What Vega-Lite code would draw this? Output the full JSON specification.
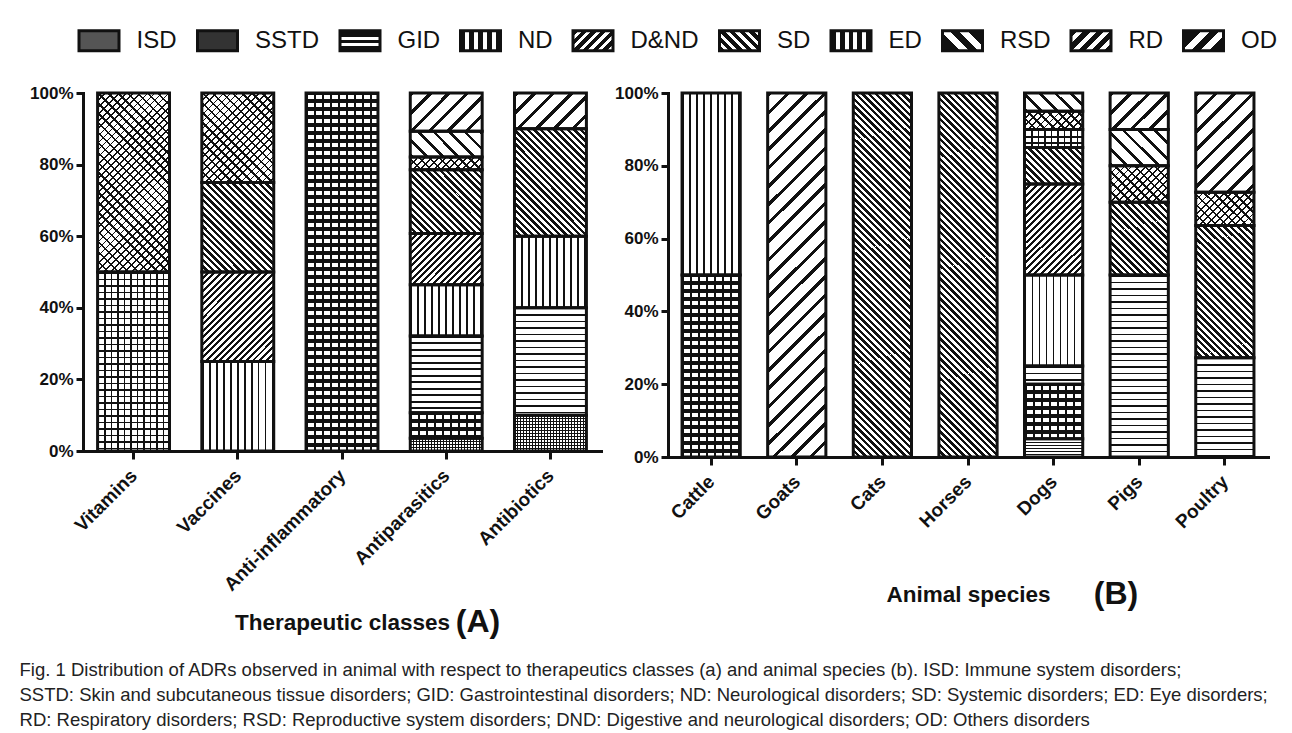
{
  "$schema": "https://vega.github.io/schema/vega-lite/v6.json",
  "padding": {"left": 19, "top": 19, "right": 4, "bottom": 4},
  "background": "white",
  "params": [
    {"name": "hatch", "value": [
      {"offset":0,"color":"#111"},{"offset":0.00391,"color":"#111"},{"offset":0.00391,"color":"rgba(0,0,0,0)"},{"offset":0.01563,"color":"rgba(0,0,0,0)"},
      {"offset":0.01563,"color":"#111"},{"offset":0.01953,"color":"#111"},{"offset":0.01953,"color":"rgba(0,0,0,0)"},{"offset":0.03125,"color":"rgba(0,0,0,0)"},
      {"offset":0.03125,"color":"#111"},{"offset":0.03516,"color":"#111"},{"offset":0.03516,"color":"rgba(0,0,0,0)"},{"offset":0.04688,"color":"rgba(0,0,0,0)"},
      {"offset":0.04688,"color":"#111"},{"offset":0.05078,"color":"#111"},{"offset":0.05078,"color":"rgba(0,0,0,0)"},{"offset":0.0625,"color":"rgba(0,0,0,0)"},
      {"offset":0.0625,"color":"#111"},{"offset":0.06641,"color":"#111"},{"offset":0.06641,"color":"rgba(0,0,0,0)"},{"offset":0.07813,"color":"rgba(0,0,0,0)"},
      {"offset":0.07813,"color":"#111"},{"offset":0.08203,"color":"#111"},{"offset":0.08203,"color":"rgba(0,0,0,0)"},{"offset":0.09375,"color":"rgba(0,0,0,0)"},
      {"offset":0.09375,"color":"#111"},{"offset":0.09766,"color":"#111"},{"offset":0.09766,"color":"rgba(0,0,0,0)"},{"offset":0.10938,"color":"rgba(0,0,0,0)"},
      {"offset":0.10938,"color":"#111"},{"offset":0.11328,"color":"#111"},{"offset":0.11328,"color":"rgba(0,0,0,0)"},{"offset":0.125,"color":"rgba(0,0,0,0)"},
      {"offset":0.125,"color":"#111"},{"offset":0.12891,"color":"#111"},{"offset":0.12891,"color":"rgba(0,0,0,0)"},{"offset":0.14063,"color":"rgba(0,0,0,0)"},
      {"offset":0.14063,"color":"#111"},{"offset":0.14453,"color":"#111"},{"offset":0.14453,"color":"rgba(0,0,0,0)"},{"offset":0.15625,"color":"rgba(0,0,0,0)"},
      {"offset":0.15625,"color":"#111"},{"offset":0.16016,"color":"#111"},{"offset":0.16016,"color":"rgba(0,0,0,0)"},{"offset":0.17188,"color":"rgba(0,0,0,0)"},
      {"offset":0.17188,"color":"#111"},{"offset":0.17578,"color":"#111"},{"offset":0.17578,"color":"rgba(0,0,0,0)"},{"offset":0.1875,"color":"rgba(0,0,0,0)"},
      {"offset":0.1875,"color":"#111"},{"offset":0.19141,"color":"#111"},{"offset":0.19141,"color":"rgba(0,0,0,0)"},{"offset":0.20313,"color":"rgba(0,0,0,0)"},
      {"offset":0.20313,"color":"#111"},{"offset":0.20703,"color":"#111"},{"offset":0.20703,"color":"rgba(0,0,0,0)"},{"offset":0.21875,"color":"rgba(0,0,0,0)"},
      {"offset":0.21875,"color":"#111"},{"offset":0.22266,"color":"#111"},{"offset":0.22266,"color":"rgba(0,0,0,0)"},{"offset":0.23438,"color":"rgba(0,0,0,0)"},
      {"offset":0.23438,"color":"#111"},{"offset":0.23828,"color":"#111"},{"offset":0.23828,"color":"rgba(0,0,0,0)"},{"offset":0.25,"color":"rgba(0,0,0,0)"},
      {"offset":0.25,"color":"#111"},{"offset":0.25391,"color":"#111"},{"offset":0.25391,"color":"rgba(0,0,0,0)"},{"offset":0.26563,"color":"rgba(0,0,0,0)"},
      {"offset":0.26563,"color":"#111"},{"offset":0.26953,"color":"#111"},{"offset":0.26953,"color":"rgba(0,0,0,0)"},{"offset":0.28125,"color":"rgba(0,0,0,0)"},
      {"offset":0.28125,"color":"#111"},{"offset":0.28516,"color":"#111"},{"offset":0.28516,"color":"rgba(0,0,0,0)"},{"offset":0.29688,"color":"rgba(0,0,0,0)"},
      {"offset":0.29688,"color":"#111"},{"offset":0.30078,"color":"#111"},{"offset":0.30078,"color":"rgba(0,0,0,0)"},{"offset":0.3125,"color":"rgba(0,0,0,0)"},
      {"offset":0.3125,"color":"#111"},{"offset":0.31641,"color":"#111"},{"offset":0.31641,"color":"rgba(0,0,0,0)"},{"offset":0.32813,"color":"rgba(0,0,0,0)"},
      {"offset":0.32813,"color":"#111"},{"offset":0.33203,"color":"#111"},{"offset":0.33203,"color":"rgba(0,0,0,0)"},{"offset":0.34375,"color":"rgba(0,0,0,0)"},
      {"offset":0.34375,"color":"#111"},{"offset":0.34766,"color":"#111"},{"offset":0.34766,"color":"rgba(0,0,0,0)"},{"offset":0.35938,"color":"rgba(0,0,0,0)"},
      {"offset":0.35938,"color":"#111"},{"offset":0.36328,"color":"#111"},{"offset":0.36328,"color":"rgba(0,0,0,0)"},{"offset":0.375,"color":"rgba(0,0,0,0)"},
      {"offset":0.375,"color":"#111"},{"offset":0.37891,"color":"#111"},{"offset":0.37891,"color":"rgba(0,0,0,0)"},{"offset":0.39063,"color":"rgba(0,0,0,0)"},
      {"offset":0.39063,"color":"#111"},{"offset":0.39453,"color":"#111"},{"offset":0.39453,"color":"rgba(0,0,0,0)"},{"offset":0.40625,"color":"rgba(0,0,0,0)"},
      {"offset":0.40625,"color":"#111"},{"offset":0.41016,"color":"#111"},{"offset":0.41016,"color":"rgba(0,0,0,0)"},{"offset":0.42188,"color":"rgba(0,0,0,0)"},
      {"offset":0.42188,"color":"#111"},{"offset":0.42578,"color":"#111"},{"offset":0.42578,"color":"rgba(0,0,0,0)"},{"offset":0.4375,"color":"rgba(0,0,0,0)"},
      {"offset":0.4375,"color":"#111"},{"offset":0.44141,"color":"#111"},{"offset":0.44141,"color":"rgba(0,0,0,0)"},{"offset":0.45313,"color":"rgba(0,0,0,0)"},
      {"offset":0.45313,"color":"#111"},{"offset":0.45703,"color":"#111"},{"offset":0.45703,"color":"rgba(0,0,0,0)"},{"offset":0.46875,"color":"rgba(0,0,0,0)"},
      {"offset":0.46875,"color":"#111"},{"offset":0.47266,"color":"#111"},{"offset":0.47266,"color":"rgba(0,0,0,0)"},{"offset":0.48438,"color":"rgba(0,0,0,0)"},
      {"offset":0.48438,"color":"#111"},{"offset":0.48828,"color":"#111"},{"offset":0.48828,"color":"rgba(0,0,0,0)"},{"offset":0.5,"color":"rgba(0,0,0,0)"},
      {"offset":0.5,"color":"#111"},{"offset":0.50391,"color":"#111"},{"offset":0.50391,"color":"rgba(0,0,0,0)"},{"offset":0.51563,"color":"rgba(0,0,0,0)"},
      {"offset":0.51563,"color":"#111"},{"offset":0.51953,"color":"#111"},{"offset":0.51953,"color":"rgba(0,0,0,0)"},{"offset":0.53125,"color":"rgba(0,0,0,0)"},
      {"offset":0.53125,"color":"#111"},{"offset":0.53516,"color":"#111"},{"offset":0.53516,"color":"rgba(0,0,0,0)"},{"offset":0.54688,"color":"rgba(0,0,0,0)"},
      {"offset":0.54688,"color":"#111"},{"offset":0.55078,"color":"#111"},{"offset":0.55078,"color":"rgba(0,0,0,0)"},{"offset":0.5625,"color":"rgba(0,0,0,0)"},
      {"offset":0.5625,"color":"#111"},{"offset":0.56641,"color":"#111"},{"offset":0.56641,"color":"rgba(0,0,0,0)"},{"offset":0.57813,"color":"rgba(0,0,0,0)"},
      {"offset":0.57813,"color":"#111"},{"offset":0.58203,"color":"#111"},{"offset":0.58203,"color":"rgba(0,0,0,0)"},{"offset":0.59375,"color":"rgba(0,0,0,0)"},
      {"offset":0.59375,"color":"#111"},{"offset":0.59766,"color":"#111"},{"offset":0.59766,"color":"rgba(0,0,0,0)"},{"offset":0.60938,"color":"rgba(0,0,0,0)"},
      {"offset":0.60938,"color":"#111"},{"offset":0.61328,"color":"#111"},{"offset":0.61328,"color":"rgba(0,0,0,0)"},{"offset":0.625,"color":"rgba(0,0,0,0)"},
      {"offset":0.625,"color":"#111"},{"offset":0.62891,"color":"#111"},{"offset":0.62891,"color":"rgba(0,0,0,0)"},{"offset":0.64063,"color":"rgba(0,0,0,0)"},
      {"offset":0.64063,"color":"#111"},{"offset":0.64453,"color":"#111"},{"offset":0.64453,"color":"rgba(0,0,0,0)"},{"offset":0.65625,"color":"rgba(0,0,0,0)"},
      {"offset":0.65625,"color":"#111"},{"offset":0.66016,"color":"#111"},{"offset":0.66016,"color":"rgba(0,0,0,0)"},{"offset":0.67188,"color":"rgba(0,0,0,0)"},
      {"offset":0.67188,"color":"#111"},{"offset":0.67578,"color":"#111"},{"offset":0.67578,"color":"rgba(0,0,0,0)"},{"offset":0.6875,"color":"rgba(0,0,0,0)"},
      {"offset":0.6875,"color":"#111"},{"offset":0.69141,"color":"#111"},{"offset":0.69141,"color":"rgba(0,0,0,0)"},{"offset":0.70313,"color":"rgba(0,0,0,0)"},
      {"offset":0.70313,"color":"#111"},{"offset":0.70703,"color":"#111"},{"offset":0.70703,"color":"rgba(0,0,0,0)"},{"offset":0.71875,"color":"rgba(0,0,0,0)"},
      {"offset":0.71875,"color":"#111"},{"offset":0.72266,"color":"#111"},{"offset":0.72266,"color":"rgba(0,0,0,0)"},{"offset":0.73438,"color":"rgba(0,0,0,0)"},
      {"offset":0.73438,"color":"#111"},{"offset":0.73828,"color":"#111"},{"offset":0.73828,"color":"rgba(0,0,0,0)"},{"offset":0.75,"color":"rgba(0,0,0,0)"},
      {"offset":0.75,"color":"#111"},{"offset":0.75391,"color":"#111"},{"offset":0.75391,"color":"rgba(0,0,0,0)"},{"offset":0.76563,"color":"rgba(0,0,0,0)"},
      {"offset":0.76563,"color":"#111"},{"offset":0.76953,"color":"#111"},{"offset":0.76953,"color":"rgba(0,0,0,0)"},{"offset":0.78125,"color":"rgba(0,0,0,0)"},
      {"offset":0.78125,"color":"#111"},{"offset":0.78516,"color":"#111"},{"offset":0.78516,"color":"rgba(0,0,0,0)"},{"offset":0.79688,"color":"rgba(0,0,0,0)"},
      {"offset":0.79688,"color":"#111"},{"offset":0.80078,"color":"#111"},{"offset":0.80078,"color":"rgba(0,0,0,0)"},{"offset":0.8125,"color":"rgba(0,0,0,0)"},
      {"offset":0.8125,"color":"#111"},{"offset":0.81641,"color":"#111"},{"offset":0.81641,"color":"rgba(0,0,0,0)"},{"offset":0.82813,"color":"rgba(0,0,0,0)"},
      {"offset":0.82813,"color":"#111"},{"offset":0.83203,"color":"#111"},{"offset":0.83203,"color":"rgba(0,0,0,0)"},{"offset":0.84375,"color":"rgba(0,0,0,0)"},
      {"offset":0.84375,"color":"#111"},{"offset":0.84766,"color":"#111"},{"offset":0.84766,"color":"rgba(0,0,0,0)"},{"offset":0.85938,"color":"rgba(0,0,0,0)"},
      {"offset":0.85938,"color":"#111"},{"offset":0.86328,"color":"#111"},{"offset":0.86328,"color":"rgba(0,0,0,0)"},{"offset":0.875,"color":"rgba(0,0,0,0)"},
      {"offset":0.875,"color":"#111"},{"offset":0.87891,"color":"#111"},{"offset":0.87891,"color":"rgba(0,0,0,0)"},{"offset":0.89063,"color":"rgba(0,0,0,0)"},
      {"offset":0.89063,"color":"#111"},{"offset":0.89453,"color":"#111"},{"offset":0.89453,"color":"rgba(0,0,0,0)"},{"offset":0.90625,"color":"rgba(0,0,0,0)"},
      {"offset":0.90625,"color":"#111"},{"offset":0.91016,"color":"#111"},{"offset":0.91016,"color":"rgba(0,0,0,0)"},{"offset":0.92188,"color":"rgba(0,0,0,0)"},
      {"offset":0.92188,"color":"#111"},{"offset":0.92578,"color":"#111"},{"offset":0.92578,"color":"rgba(0,0,0,0)"},{"offset":0.9375,"color":"rgba(0,0,0,0)"},
      {"offset":0.9375,"color":"#111"},{"offset":0.94141,"color":"#111"},{"offset":0.94141,"color":"rgba(0,0,0,0)"},{"offset":0.95313,"color":"rgba(0,0,0,0)"},
      {"offset":0.95313,"color":"#111"},{"offset":0.95703,"color":"#111"},{"offset":0.95703,"color":"rgba(0,0,0,0)"},{"offset":0.96875,"color":"rgba(0,0,0,0)"},
      {"offset":0.96875,"color":"#111"},{"offset":0.97266,"color":"#111"},{"offset":0.97266,"color":"rgba(0,0,0,0)"},{"offset":0.98438,"color":"rgba(0,0,0,0)"},
      {"offset":0.98438,"color":"#111"},{"offset":0.98828,"color":"#111"},{"offset":0.98828,"color":"rgba(0,0,0,0)"},{"offset":1,"color":"rgba(0,0,0,0)"}
    ]},
    {"name": "lgb", "value": [
      {"offset":0,"color":"#111"},{"offset":0.3,"color":"#111"},{"offset":0.3,"color":"#fff"},{"offset":0.45,"color":"#fff"},
      {"offset":0.45,"color":"#111"},{"offset":0.6,"color":"#111"},{"offset":0.6,"color":"#fff"},{"offset":0.75,"color":"#fff"},
      {"offset":0.75,"color":"#111"},{"offset":1,"color":"#111"}
    ]},
    {"name": "lg4", "value": [
      {"offset":0,"color":"#111"},{"offset":0.12,"color":"#111"},{"offset":0.12,"color":"#fff"},{"offset":0.22,"color":"#fff"},
      {"offset":0.22,"color":"#111"},{"offset":0.34,"color":"#111"},{"offset":0.34,"color":"#fff"},{"offset":0.44,"color":"#fff"},
      {"offset":0.44,"color":"#111"},{"offset":0.56,"color":"#111"},{"offset":0.56,"color":"#fff"},{"offset":0.66,"color":"#fff"},
      {"offset":0.66,"color":"#111"},{"offset":0.78,"color":"#111"},{"offset":0.78,"color":"#fff"},{"offset":0.88,"color":"#fff"},
      {"offset":0.88,"color":"#111"},{"offset":1,"color":"#111"}
    ]},
    {"name": "lg6", "value": [
      {"offset":0,"color":"#111"},{"offset":0.09,"color":"#111"},{"offset":0.09,"color":"#fff"},{"offset":0.16,"color":"#fff"},
      {"offset":0.16,"color":"#111"},{"offset":0.25,"color":"#111"},{"offset":0.25,"color":"#fff"},{"offset":0.32,"color":"#fff"},
      {"offset":0.32,"color":"#111"},{"offset":0.41,"color":"#111"},{"offset":0.41,"color":"#fff"},{"offset":0.48,"color":"#fff"},
      {"offset":0.48,"color":"#111"},{"offset":0.57,"color":"#111"},{"offset":0.57,"color":"#fff"},{"offset":0.64,"color":"#fff"},
      {"offset":0.64,"color":"#111"},{"offset":0.73,"color":"#111"},{"offset":0.73,"color":"#fff"},{"offset":0.8,"color":"#fff"},
      {"offset":0.8,"color":"#111"},{"offset":0.89,"color":"#111"},{"offset":0.89,"color":"#fff"},{"offset":0.96,"color":"#fff"},
      {"offset":0.96,"color":"#111"},{"offset":1,"color":"#111"}
    ]}
  ],
  "datasets": {
    "A": [
      {"item":"Vitamins","cat":"ED","pct":50},
      {"item":"Vitamins","cat":"RD","pct":50},
      {"item":"Vaccines","cat":"ND","pct":25},
      {"item":"Vaccines","cat":"D&ND","pct":25},
      {"item":"Vaccines","cat":"SD","pct":25},
      {"item":"Vaccines","cat":"RD","pct":25},
      {"item":"Anti-inflammatory","cat":"SSTD","pct":100},
      {"item":"Antiparasitics","cat":"ISD","pct":3.57},
      {"item":"Antiparasitics","cat":"SSTD","pct":7.14},
      {"item":"Antiparasitics","cat":"GID","pct":21.43},
      {"item":"Antiparasitics","cat":"ND","pct":14.29},
      {"item":"Antiparasitics","cat":"D&ND","pct":14.29},
      {"item":"Antiparasitics","cat":"SD","pct":17.86},
      {"item":"Antiparasitics","cat":"RD","pct":3.57},
      {"item":"Antiparasitics","cat":"RSD","pct":7.14},
      {"item":"Antiparasitics","cat":"OD","pct":10.71},
      {"item":"Antibiotics","cat":"ISD","pct":10},
      {"item":"Antibiotics","cat":"GID","pct":30},
      {"item":"Antibiotics","cat":"ND","pct":20},
      {"item":"Antibiotics","cat":"SD","pct":30},
      {"item":"Antibiotics","cat":"OD","pct":10}
    ],
    "B": [
      {"item":"Cattle","cat":"SSTD","pct":50},
      {"item":"Cattle","cat":"ND","pct":50},
      {"item":"Goats","cat":"OD","pct":100},
      {"item":"Cats","cat":"SD","pct":100},
      {"item":"Horses","cat":"SD","pct":100},
      {"item":"Dogs","cat":"ISD","pct":5},
      {"item":"Dogs","cat":"SSTD","pct":15},
      {"item":"Dogs","cat":"GID","pct":5},
      {"item":"Dogs","cat":"ND","pct":25},
      {"item":"Dogs","cat":"D&ND","pct":25},
      {"item":"Dogs","cat":"SD","pct":10},
      {"item":"Dogs","cat":"ED","pct":5},
      {"item":"Dogs","cat":"RD","pct":5},
      {"item":"Dogs","cat":"RSD","pct":5},
      {"item":"Pigs","cat":"GID","pct":50},
      {"item":"Pigs","cat":"SD","pct":20},
      {"item":"Pigs","cat":"RD","pct":10},
      {"item":"Pigs","cat":"RSD","pct":10},
      {"item":"Pigs","cat":"OD","pct":10},
      {"item":"Poultry","cat":"GID","pct":27.27},
      {"item":"Poultry","cat":"SD","pct":36.36},
      {"item":"Poultry","cat":"RD","pct":9.09},
      {"item":"Poultry","cat":"OD","pct":27.28}
    ]
  },
  "title": {
    "text": [
      "Fig. 1 Distribution of ADRs observed in animal with respect to therapeutics classes (a) and animal species (b). ISD: Immune system disorders;",
      "SSTD: Skin and subcutaneous tissue disorders; GID: Gastrointestinal disorders; ND: Neurological disorders; SD: Systemic disorders; ED: Eye disorders;",
      "RD: Respiratory disorders; RSD: Reproductive system disorders; DND: Digestive and neurological disorders; OD: Others disorders"
    ],
    "orient": "bottom", "anchor": "start", "offset": 23, "dx": -10,
    "font": "Liberation Sans", "fontSize": 18.5, "fontWeight": "normal", "color": "#222", "lineHeight": 25
  },
  "spacing": 13,
  "resolve": {"scale": {"fill": "shared", "stroke": "shared"}, "legend": {"fill": "shared"}},
  "hconcat": [
    {
      "width": 518, "height": 358,
      "data": {"name": "A"},
      "title": {"text": "(A)", "orient": "bottom", "anchor": "middle", "fontSize": 32, "fontWeight": "bold", "font": "Liberation Sans", "color": "#111", "dx": 136, "dy": -27, "offset": 0},
      "transform": [
        {"calculate": "indexof(['ISD','SSTD','GID','ND','D&ND','SD','ED','RD','RSD','OD'], datum.cat)", "as": "o"},
        {"stack": "pct", "groupby": ["item"], "sort": [{"field": "o", "order": "ascending"}], "as": ["s", "e"], "offset": "normalize"}
      ],
      "encoding": {
        "x": {"field": "item", "type": "nominal", "sort": ["Vitamins","Vaccines","Anti-inflammatory","Antiparasitics","Antibiotics"], "scale": {"paddingInner": 0.31, "paddingOuter": 0.14}, "title": "Therapeutic classes", "axis": {"titlePadding": 17}},
        "y": {"field": "s", "type": "quantitative", "scale": {"domain": [0, 1], "nice": false}, "axis": {"values": [0, 0.2, 0.4, 0.6, 0.8, 1], "format": ".0%", "title": null}},
        "y2": {"field": "e"}
      },
      "layer": [
        {"mark": {"type": "bar", "opacity": 0, "stroke": "#111", "strokeWidth": 3},
         "encoding": {"fill": {"field": "cat", "type": "nominal",
           "scale": {"domain": ["ISD","SSTD","GID","ND","D&ND","SD","ED","RSD","RD","OD"], "range": ["#555","#333",
             {"expr": "{gradient:'linear',x1:0,y1:0,x2:1e-9,y2:1,stops:lgb}"},
             {"expr": "{gradient:'linear',x1:0,y1:0,x2:1,y2:0,stops:lg4}"},
             {"expr": "{gradient:'linear',x1:0,y1:0,x2:1.2,y2:0.6,stops:lg6}"},
             {"expr": "{gradient:'linear',x1:0,y1:1,x2:1.2,y2:0.4,stops:lg6}"},
             {"expr": "{gradient:'linear',x1:0,y1:0,x2:1,y2:0,stops:lg4}"},
             {"expr": "{gradient:'linear',x1:0,y1:1,x2:1.2,y2:0.4,stops:lgb}"},
             {"expr": "{gradient:'linear',x1:0,y1:0,x2:1.2,y2:0.6,stops:lg4}"},
             {"expr": "{gradient:'linear',x1:0,y1:0,x2:1.2,y2:0.6,stops:lgb}"}]},
           "legend": {"orient": "none", "legendX": -5.5, "legendY": -74, "direction": "horizontal", "columns": 10, "title": null, "padding": 0,
             "symbolType": "M-1,-0.5H1V0.5H-1Z", "symbolSize": 1600, "symbolStrokeWidth": 3, "symbolStrokeColor": "#111", "symbolOpacity": 1,
             "labelFontSize": 24, "labelFont": "Liberation Sans", "labelFontWeight": "normal", "labelColor": "#111", "labelOffset": 16, "columnPadding": 13.5}
         }}},
        {"mark": {"type": "bar", "strokeWidth": 0, "fill": {"expr": "(datum.cat=='GID'||datum.cat=='ED')?{gradient:'linear',x1:0,y1:0,x2:1e-9,y2:416/((datum.e-datum.s)*358),stops:hatch}:datum.cat=='ISD'?{gradient:'linear',x1:0,y1:0,x2:1e-9,y2:192/((datum.e-datum.s)*358),stops:hatch}:datum.cat=='SSTD'?{gradient:'linear',x1:0,y1:0,x2:1e-9,y2:512/((datum.e-datum.s)*358),stops:hatch}:datum.cat=='ND'?{gradient:'linear',x1:0,y1:0,x2:6.222,y2:0,stops:hatch}:datum.cat=='SD'?{gradient:'linear',x1:0,y1:1,x2:72*425.4/(5184+pow((datum.e-datum.s)*358,2)),y2:1-(datum.e-datum.s)*358*425.4/(5184+pow((datum.e-datum.s)*358,2)),stops:hatch}:datum.cat=='D&ND'?{gradient:'linear',x1:0,y1:0,x2:72*425.4/(5184+pow((datum.e-datum.s)*358,2)),y2:(datum.e-datum.s)*358*425.4/(5184+pow((datum.e-datum.s)*358,2)),stops:hatch}:datum.cat=='RD'?{gradient:'linear',x1:0,y1:0,x2:72*452.5/(5184+pow((datum.e-datum.s)*358,2)),y2:(datum.e-datum.s)*358*452.5/(5184+pow((datum.e-datum.s)*358,2)),stops:hatch}:datum.cat=='RSD'?{gradient:'linear',x1:0,y1:1,x2:72*995.6/(5184+pow((datum.e-datum.s)*358,2)),y2:1-(datum.e-datum.s)*358*995.6/(5184+pow((datum.e-datum.s)*358,2)),stops:hatch}:{gradient:'linear',x1:0,y1:0,x2:72*1176.6/(5184+pow((datum.e-datum.s)*358,2)),y2:(datum.e-datum.s)*358*1176.6/(5184+pow((datum.e-datum.s)*358,2)),stops:hatch}"}}},
        {"transform": [{"filter": {"field": "cat", "oneOf": ["ED","ISD","SSTD","SD","D&ND","RD"]}}],
         "mark": {"type": "bar", "strokeWidth": 0, "fill": {"expr": "datum.cat=='ED'?{gradient:'linear',x1:0,y1:0,x2:5.778,y2:0,stops:hatch}:datum.cat=='ISD'?{gradient:'linear',x1:0,y1:0,x2:2.667,y2:0,stops:hatch}:datum.cat=='SSTD'?{gradient:'linear',x1:0,y1:0,x2:7.111,y2:0,stops:hatch}:datum.cat=='SD'?{gradient:'linear',x1:-0.02308,y1:1,x2:-0.02308+72*425.4/(5184+pow((datum.e-datum.s)*358,2)),y2:1-(datum.e-datum.s)*358*425.4/(5184+pow((datum.e-datum.s)*358,2)),stops:hatch}:datum.cat=='D&ND'?{gradient:'linear',x1:-0.01846,y1:0,x2:-0.01846+72*425.4/(5184+pow((datum.e-datum.s)*358,2)),y2:(datum.e-datum.s)*358*425.4/(5184+pow((datum.e-datum.s)*358,2)),stops:hatch}:{gradient:'linear',x1:0,y1:1,x2:72*633.6/(5184+pow((datum.e-datum.s)*358,2)),y2:1-(datum.e-datum.s)*358*633.6/(5184+pow((datum.e-datum.s)*358,2)),stops:hatch}"}}},
        {"transform": [{"filter": {"field": "cat", "equal": "SSTD"}}],
         "mark": {"type": "bar", "strokeWidth": 0, "fill": {"expr": "{gradient:'linear',x1:0,y1:-2/((datum.e-datum.s)*358),x2:1e-9,y2:510/((datum.e-datum.s)*358),stops:hatch}"}}},
        {"mark": {"type": "bar", "fill": "rgba(0,0,0,0)", "stroke": "#111", "strokeWidth": 3}}
      ]
    },
    {
      "width": 600, "height": 364,
      "data": {"name": "B"},
      "title": {"text": "(B)", "orient": "bottom", "anchor": "middle", "fontSize": 32, "fontWeight": "bold", "font": "Liberation Sans", "color": "#111", "dx": 148, "dy": -27, "offset": 0},
      "transform": [
        {"calculate": "indexof(['ISD','SSTD','GID','ND','D&ND','SD','ED','RD','RSD','OD'], datum.cat)", "as": "o"},
        {"stack": "pct", "groupby": ["item"], "sort": [{"field": "o", "order": "ascending"}], "as": ["s", "e"], "offset": "normalize"}
      ],
      "encoding": {
        "x": {"field": "item", "type": "nominal", "sort": ["Cattle","Goats","Cats","Horses","Dogs","Pigs","Poultry"], "scale": {"paddingInner": 0.32, "paddingOuter": 0.164}, "title": "Animal species", "axis": {"titlePadding": 52}},
        "y": {"field": "s", "type": "quantitative", "scale": {"domain": [0, 1], "nice": false}, "axis": {"values": [0, 0.2, 0.4, 0.6, 0.8, 1], "format": ".0%", "title": null}},
        "y2": {"field": "e"}
      },
      "layer": [
        {"mark": {"type": "bar", "opacity": 0, "stroke": "#111", "strokeWidth": 3},
         "encoding": {"fill": {"field": "cat", "type": "nominal",
           "scale": {"domain": ["ISD","SSTD","GID","ND","D&ND","SD","ED","RSD","RD","OD"], "range": ["#555","#333",
             {"expr": "{gradient:'linear',x1:0,y1:0,x2:1e-9,y2:1,stops:lgb}"},
             {"expr": "{gradient:'linear',x1:0,y1:0,x2:1,y2:0,stops:lg4}"},
             {"expr": "{gradient:'linear',x1:0,y1:0,x2:1.2,y2:0.6,stops:lg6}"},
             {"expr": "{gradient:'linear',x1:0,y1:1,x2:1.2,y2:0.4,stops:lg6}"},
             {"expr": "{gradient:'linear',x1:0,y1:0,x2:1,y2:0,stops:lg4}"},
             {"expr": "{gradient:'linear',x1:0,y1:1,x2:1.2,y2:0.4,stops:lgb}"},
             {"expr": "{gradient:'linear',x1:0,y1:0,x2:1.2,y2:0.6,stops:lg4}"},
             {"expr": "{gradient:'linear',x1:0,y1:0,x2:1.2,y2:0.6,stops:lgb}"}]},
           "legend": {"orient": "none", "legendX": -5.5, "legendY": -74, "direction": "horizontal", "columns": 10, "title": null, "padding": 0,
             "symbolType": "M-1,-0.5H1V0.5H-1Z", "symbolSize": 1600, "symbolStrokeWidth": 3, "symbolStrokeColor": "#111", "symbolOpacity": 1,
             "labelFontSize": 24, "labelFont": "Liberation Sans", "labelFontWeight": "normal", "labelColor": "#111", "labelOffset": 16, "columnPadding": 13.5}
         }}},
        {"mark": {"type": "bar", "strokeWidth": 0, "fill": {"expr": "(datum.cat=='GID'||datum.cat=='ED')?{gradient:'linear',x1:0,y1:0,x2:1e-9,y2:416/((datum.e-datum.s)*364),stops:hatch}:datum.cat=='ISD'?{gradient:'linear',x1:0,y1:0,x2:1e-9,y2:192/((datum.e-datum.s)*364),stops:hatch}:datum.cat=='SSTD'?{gradient:'linear',x1:0,y1:0,x2:1e-9,y2:512/((datum.e-datum.s)*364),stops:hatch}:datum.cat=='ND'?{gradient:'linear',x1:0,y1:0,x2:7.724,y2:0,stops:hatch}:datum.cat=='SD'?{gradient:'linear',x1:0,y1:1,x2:58*425.4/(3364+pow((datum.e-datum.s)*364,2)),y2:1-(datum.e-datum.s)*364*425.4/(3364+pow((datum.e-datum.s)*364,2)),stops:hatch}:datum.cat=='D&ND'?{gradient:'linear',x1:0,y1:0,x2:58*425.4/(3364+pow((datum.e-datum.s)*364,2)),y2:(datum.e-datum.s)*364*425.4/(3364+pow((datum.e-datum.s)*364,2)),stops:hatch}:datum.cat=='RD'?{gradient:'linear',x1:0,y1:0,x2:58*452.5/(3364+pow((datum.e-datum.s)*364,2)),y2:(datum.e-datum.s)*364*452.5/(3364+pow((datum.e-datum.s)*364,2)),stops:hatch}:datum.cat=='RSD'?{gradient:'linear',x1:0,y1:1,x2:58*995.6/(3364+pow((datum.e-datum.s)*364,2)),y2:1-(datum.e-datum.s)*364*995.6/(3364+pow((datum.e-datum.s)*364,2)),stops:hatch}:{gradient:'linear',x1:0,y1:0,x2:58*1176.6/(3364+pow((datum.e-datum.s)*364,2)),y2:(datum.e-datum.s)*364*1176.6/(3364+pow((datum.e-datum.s)*364,2)),stops:hatch}"}}},
        {"transform": [{"filter": {"field": "cat", "oneOf": ["ED","ISD","SSTD","SD","D&ND","RD"]}}],
         "mark": {"type": "bar", "strokeWidth": 0, "fill": {"expr": "datum.cat=='ED'?{gradient:'linear',x1:0,y1:0,x2:7.172,y2:0,stops:hatch}:datum.cat=='ISD'?{gradient:'linear',x1:0,y1:0,x2:3.31,y2:0,stops:hatch}:datum.cat=='SSTD'?{gradient:'linear',x1:0,y1:0,x2:8.828,y2:0,stops:hatch}:datum.cat=='SD'?{gradient:'linear',x1:-0.02866,y1:1,x2:-0.02866+58*425.4/(3364+pow((datum.e-datum.s)*364,2)),y2:1-(datum.e-datum.s)*364*425.4/(3364+pow((datum.e-datum.s)*364,2)),stops:hatch}:datum.cat=='D&ND'?{gradient:'linear',x1:-0.02291,y1:0,x2:-0.02291+58*425.4/(3364+pow((datum.e-datum.s)*364,2)),y2:(datum.e-datum.s)*364*425.4/(3364+pow((datum.e-datum.s)*364,2)),stops:hatch}:{gradient:'linear',x1:0,y1:1,x2:58*633.6/(3364+pow((datum.e-datum.s)*364,2)),y2:1-(datum.e-datum.s)*364*633.6/(3364+pow((datum.e-datum.s)*364,2)),stops:hatch}"}}},
        {"transform": [{"filter": {"field": "cat", "equal": "SSTD"}}],
         "mark": {"type": "bar", "strokeWidth": 0, "fill": {"expr": "{gradient:'linear',x1:0,y1:-2/((datum.e-datum.s)*364),x2:1e-9,y2:510/((datum.e-datum.s)*364),stops:hatch}"}}},
        {"mark": {"type": "bar", "fill": "rgba(0,0,0,0)", "stroke": "#111", "strokeWidth": 3}}
      ]
    }
  ],
  "config": {
    "view": {"stroke": null},
    "font": "Liberation Sans",
    "axis": {"domainColor": "#111", "domainWidth": 3, "tickColor": "#111", "tickWidth": 3, "labelFont": "Liberation Sans", "labelFontSize": 17, "labelFontWeight": "bold", "labelColor": "#111", "titleFont": "Liberation Sans", "titleFontSize": 22.5, "titleFontWeight": "bold", "titleColor": "#111", "grid": false, "domainCap": "square"},
    "axisX": {"labelAngle": -45, "labelAlign": "right", "labelBaseline": "top", "tickSize": 8, "labelPadding": 7, "labelOffset": -6, "labelFontSize": 19},
    "axisY": {"tickSize": 7, "labelPadding": 3}
  }
}
